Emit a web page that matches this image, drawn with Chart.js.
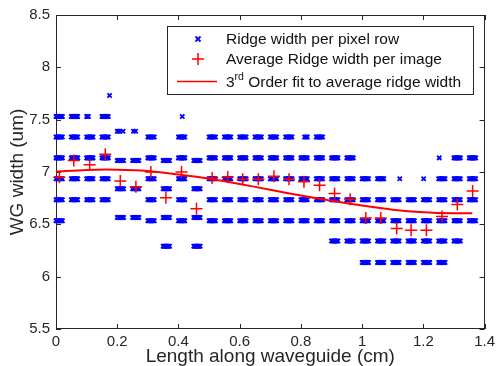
<!DOCTYPE html>
<html>
<head>
<meta charset="utf-8">
<script src="https://cdn.jsdelivr.net/npm/chart.js@4.4.1/dist/chart.umd.min.js"></script>
<style>html,body{margin:0;padding:0;background:#fff}</style>
</head>
<body>
<canvas id="grafico" width="499" height="366"></canvas>
<script>
// start of each image along the guide (cm)
const imageX = [0, 0.05, 0.1, 0.15, 0.2, 0.25, 0.3, 0.35, 0.4, 0.45, 0.5, 0.55, 0.6, 0.65,
                0.7, 0.75, 0.8, 0.85, 0.9, 0.95, 1.0, 1.05, 1.1, 1.15, 1.2, 1.25, 1.3, 1.35];
// offsets of the pixel rows inside one image
const rowOffsets = [0, 0.003, 0.006, 0.009, 0.012, 0.015, 0.018, 0.021];
// width levels found in each image (um)
const rowLevels = [
  [7.53, 7.335, 7.135, 6.935, 6.735, 6.535],
  [7.53, 7.335, 7.135, 6.935, 6.735],
  [7.335, 7.135, 6.935, 6.735],
  [7.53, 7.335, 7.135, 6.935, 6.735],
  [7.11, 6.84, 6.565],
  [7.11, 6.84, 6.565],
  [7.335, 7.135, 6.935, 6.735, 6.535],
  [7.11, 6.84, 6.565, 6.29],
  [7.335, 7.135, 6.935, 6.735, 6.535],
  [7.11, 6.84, 6.565, 6.29],
  [7.335, 7.135, 6.935, 6.735, 6.535],
  [7.335, 7.135, 6.935, 6.735, 6.535],
  [7.335, 7.135, 6.935, 6.735, 6.535],
  [7.335, 7.135, 6.935, 6.735, 6.535],
  [7.335, 7.135, 6.935, 6.735, 6.535],
  [7.335, 7.135, 6.935, 6.735, 6.535],
  [7.135, 6.935, 6.735, 6.535],
  [7.335, 7.135, 6.935, 6.735, 6.535],
  [7.135, 6.935, 6.735, 6.535, 6.34],
  [7.135, 6.935, 6.735, 6.535, 6.34],
  [6.935, 6.735, 6.535, 6.34, 6.135],
  [6.935, 6.735, 6.535, 6.34, 6.135],
  [6.735, 6.535, 6.34, 6.135],
  [6.735, 6.535, 6.34, 6.135],
  [6.735, 6.535, 6.34, 6.135],
  [6.935, 6.735, 6.535, 6.34, 6.135],
  [7.135, 6.935, 6.735, 6.535, 6.34],
  [7.135, 6.935, 6.735, 6.535]
];
// loose rows
const extraX = [0.100, 0.103, 0.106, 0.812, 0.815, 0.818, 0.821, 0.200, 0.204, 0.208, 0.219,
                0.253, 0.260, 0.175, 0.4125, 1.123, 1.201, 1.252];
const extraY = [7.53, 7.53, 7.53, 7.335, 7.335, 7.335, 7.335, 7.39, 7.39, 7.39, 7.39,
                7.39, 7.39, 7.73, 7.53, 6.935, 6.935, 7.135];
// average per image
const avgX = [0.011, 0.058, 0.110, 0.161, 0.210, 0.261, 0.310, 0.359, 0.410, 0.459, 0.510, 0.561, 0.610, 0.661,
              0.712, 0.761, 0.810, 0.861, 0.910, 0.961, 1.012, 1.061, 1.113, 1.160, 1.210, 1.261, 1.311, 1.361];
const avgY = [6.95, 7.11, 7.07, 7.17, 6.915, 6.86, 7.0, 6.755, 7.0, 6.65, 6.943, 6.953, 6.93, 6.93,
              6.96, 6.93, 6.906, 6.874, 6.795, 6.74, 6.56, 6.56, 6.46, 6.443, 6.443, 6.575, 6.69, 6.818];
// 3rd order fit
const fitX = [0, 0.1, 0.2, 0.3, 0.4, 0.5, 0.6, 0.7, 0.8, 0.9, 1.0, 1.1, 1.2, 1.3, 1.36];
const fitY = [7.005, 7.02, 7.022, 7.01, 6.975, 6.935, 6.885, 6.83, 6.775, 6.725, 6.68, 6.64, 6.615, 6.605, 6.607];

const xTicks = [0, 0.2, 0.4, 0.6, 0.8, 1, 1.2, 1.4];
const xTickLabels = ['0', '0.2', '0.4', '0.6', '0.8', '1', '1.2', '1.4'];
const yTicks = [5.5, 6, 6.5, 7, 7.5, 8, 8.5];
const yTickLabels = ['5.5', '6', '6.5', '7', '7.5', '8', '8.5'];
const legendLabels = ['Ridge width per pixel row', 'Average Ridge width per image', ['3', 'rd', ' Order fit to average ridge width']];

const fuente = 'Liberation Sans, Arial, Helvetica, sans-serif';
const gris = '#262626';

const puntos = [];
imageX.forEach((x0, i) => rowLevels[i].forEach(w => rowOffsets.forEach(d => puntos.push({x: x0 + d, y: w}))));
extraX.forEach((x, i) => puntos.push({x: x, y: extraY[i]}));
const promedios = avgX.map((x, i) => ({x: x, y: avgY[i]}));
const ajuste = fitX.map((x, i) => ({x: x, y: fitY[i]}));

const marco = {
  id: 'marco',
  beforeDatasetsDraw(chart) {
    const {ctx, chartArea: a, scales: {x, y}} = chart;
    ctx.save();
    ctx.strokeStyle = gris;
    ctx.lineWidth = 1;
    ctx.strokeRect(Math.round(a.left) + 0.5, Math.round(a.top) + 0.5, Math.round(a.right - a.left) - 1, Math.round(a.bottom - a.top) - 1);
    ctx.beginPath();
    xTicks.forEach(v => {
      const px = Math.round(x.getPixelForValue(v)) + 0.5;
      ctx.moveTo(px, a.bottom); ctx.lineTo(px, a.bottom - 5);
      ctx.moveTo(px, a.top); ctx.lineTo(px, a.top + 5);
    });
    yTicks.forEach(v => {
      const py = Math.round(y.getPixelForValue(v)) + 0.5;
      ctx.moveTo(a.left, py); ctx.lineTo(a.left + 5, py);
      ctx.moveTo(a.right, py); ctx.lineTo(a.right - 5, py);
    });
    ctx.stroke();
    ctx.restore();
  }
};

const leyenda = {
  id: 'leyenda',
  afterDraw(chart) {
    const ctx = chart.ctx;
    ctx.save();
    ctx.fillStyle = '#fff';
    ctx.fillRect(167.5, 26.5, 306, 68);
    ctx.strokeStyle = gris;
    ctx.lineWidth = 1;
    ctx.strokeRect(167.5, 26.5, 306, 68);
    // markers
    ctx.strokeStyle = '#0000ff';
    ctx.lineWidth = 1.8;
    ctx.beginPath();
    ctx.moveTo(195.5, 36.5); ctx.lineTo(200.5, 41.5);
    ctx.moveTo(200.5, 36.5); ctx.lineTo(195.5, 41.5);
    ctx.stroke();
    ctx.strokeStyle = '#ff0000';
    ctx.lineWidth = 1.5;
    ctx.beginPath();
    ctx.moveTo(192, 59); ctx.lineTo(204, 59);
    ctx.moveTo(198, 53); ctx.lineTo(198, 65);
    ctx.stroke();
    ctx.beginPath();
    ctx.moveTo(177, 81.5); ctx.lineTo(217, 81.5);
    ctx.stroke();
    // text
    ctx.fillStyle = '#111';
    ctx.textBaseline = 'middle';
    ctx.font = '15.5px ' + fuente;
    ctx.fillText(legendLabels[0], 226, 39.5);
    ctx.fillText(legendLabels[1], 226, 59.5);
    const t = legendLabels[2];
    let xx = 226;
    ctx.fillText(t[0], xx, 83);
    xx += ctx.measureText(t[0]).width;
    ctx.font = '10.5px ' + fuente;
    ctx.fillText(t[1], xx, 77);
    xx += ctx.measureText(t[1]).width;
    ctx.font = '15.5px ' + fuente;
    ctx.fillText(t[2], xx, 83);
    ctx.restore();
  }
};

new Chart(document.getElementById('grafico').getContext('2d'), {
  type: 'scatter',
  data: {
    datasets: [
      {
        label: 'fit',
        type: 'line',
        data: ajuste,
        borderColor: '#ff0000',
        borderWidth: 2,
        pointRadius: 0,
        tension: 0.3,
        fill: false,
        order: 0
      },
      {
        label: 'avg',
        data: promedios,
        pointStyle: 'cross',
        pointRadius: 6,
        borderWidth: 1.5,
        borderColor: '#ff0000',
        backgroundColor: '#ff0000',
        clip: false,
        order: 1
      },
      {
        label: 'rows',
        data: puntos,
        pointStyle: 'crossRot',
        pointRadius: 3,
        borderWidth: 1.8,
        borderColor: '#0000ff',
        backgroundColor: '#0000ff',
        clip: false,
        order: 2
      }
    ]
  },
  options: {
    responsive: false,
    animation: false,
    devicePixelRatio: 1,
    layout: {padding: {top: 11, right: 11, left: 0, bottom: 0}},
    plugins: {legend: {display: false}, tooltip: {enabled: false}},
    scales: {
      x: {
        type: 'linear',
        min: 0,
        max: 1.4,
        afterBuildTicks: s => { s.ticks = xTicks.map(v => ({value: v})); },
        afterFit: s => { s.height = 37; },
        grid: {display: false, drawTicks: false},
        border: {display: false},
        ticks: {
          callback: (v, i) => xTickLabels[i],
          font: {family: fuente, size: 15},
          color: gris,
          padding: 4,
          maxRotation: 0,
          autoSkip: false
        },
        title: {
          display: true,
          text: 'Length along waveguide (cm)',
          font: {family: fuente, size: 19, lineHeight: 1},
          color: gris,
          padding: {top: 0, bottom: 0}
        }
      },
      y: {
        min: 5.5,
        max: 8.5,
        afterBuildTicks: s => { s.ticks = yTicks.map(v => ({value: v})); },
        afterFit: s => { s.width = 56; },
        grid: {display: false, drawTicks: false},
        border: {display: false},
        ticks: {
          callback: (v, i) => yTickLabels[i],
          font: {family: fuente, size: 15},
          color: gris,
          padding: 6,
          autoSkip: false
        },
        title: {
          display: true,
          text: 'WG width (um)',
          font: {family: fuente, size: 19, lineHeight: 1},
          color: gris,
          padding: {top: 8, bottom: 0}
        }
      }
    }
  },
  plugins: [marco, leyenda]
});
</script>
</body>
</html>
